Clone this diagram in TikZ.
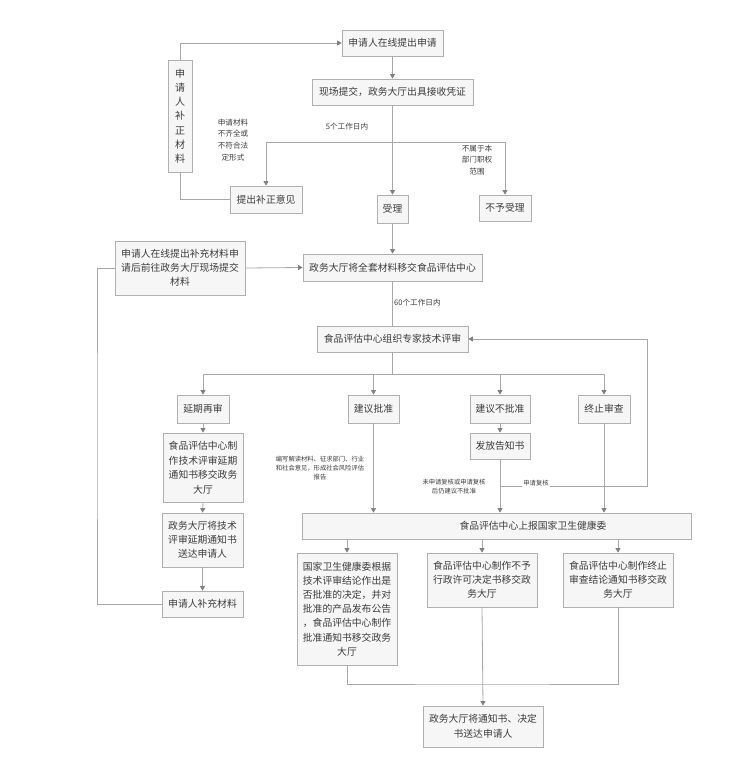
\documentclass[tikz,border=0pt]{standalone}
\usepackage{fontspec}
\setmainfont{Noto Sans CJK SC}
\usetikzlibrary{arrows.meta}
\definecolor{ln}{HTML}{A8A8A8}
\definecolor{bd}{HTML}{B0B0B0}
\definecolor{bf}{HTML}{F6F6F6}
\definecolor{tx}{HTML}{3C3C3C}
\definecolor{ah}{HTML}{808080}
\begin{document}
\begin{tikzpicture}[x=1pt,y=-1pt,
 box/.style={draw=bd, fill=bf, line width=0.8pt, text=tx, inner sep=0pt, align=center, font=\fontsize{9.8}{14.5}\selectfont},
 lbl/.style={text=tx, inner sep=0pt, align=center},
 smalltxt/.style={lbl, font=\fontsize{7.6}{11.8}\selectfont},
 tinytxt/.style={lbl, font=\fontsize{6.3}{9}\selectfont},
 conn/.style={draw=ln, line width=0.8pt},
 arr/.style={conn, -{Triangle[width=5pt,length=4.5pt,color=ah]}},
]
\useasboundingbox (0,0) rectangle (745,767);
\fill[white] (0,0) rectangle (745,767);

% boxes
\node[box, minimum width=101pt, minimum height=26pt] (n1) at (392.5,43) {申请人在线提出申请};
\node[box, minimum width=161pt, minimum height=26pt] (n2) at (392.5,92) {现场提交，政务大厅出具接收凭证};
\node[box, minimum width=24pt, minimum height=112pt, font=\fontsize{10}{14.2}\selectfont] (bz) at (180,116) {申\\请\\人\\补\\正\\材\\料};
\node[box, minimum width=72pt, minimum height=27pt] (n3) at (266,199.5) {提出补正意见};
\node[box, minimum width=31pt, minimum height=28pt] (n4) at (392.5,209) {受理};
\node[box, minimum width=52pt, minimum height=26pt] (n5) at (505,208) {不予受理};
\node[box, minimum width=130pt, minimum height=54pt, font=\fontsize{9.8}{14}\selectfont] (bc) at (180,268) {申请人在线提出补充材料申\\请后前往政务大厅现场提交\\材料};
\node[box, minimum width=179pt, minimum height=27pt] (n6) at (392.5,267.5) {政务大厅将全套材料移交食品评估中心};
\node[box, minimum width=151pt, minimum height=26pt] (n7) at (392.5,339) {食品评估中心组织专家技术评审};
\node[box, minimum width=52pt, minimum height=28pt] (yq) at (203,409) {延期再审};
\node[box, minimum width=51pt, minimum height=28pt] (pz) at (373.5,409) {建议批准};
\node[box, minimum width=60pt, minimum height=28pt] (bpz) at (500,409) {建议不批准};
\node[box, minimum width=52pt, minimum height=28pt] (zz) at (604,409) {终止审查};
\node[box, minimum width=80pt, minimum height=69pt] (yqtz) at (203,467.5) {食品评估中心制\\作技术评审延期\\通知书移交政务\\大厅};
\node[box, minimum width=60pt, minimum height=26pt] (ff) at (500,446) {发放告知书};
\node[box, minimum width=81pt, minimum height=54pt, font=\fontsize{9.8}{13.8}\selectfont] (sd) at (202.5,540) {政务大厅将技术\\评审延期通知书\\送达申请人};
\node[box, minimum width=81pt, minimum height=26pt] (bccl) at (202.5,604) {申请人补充材料};
\node[box, minimum width=389pt, minimum height=26pt] (sb) at (496.5,526) {};
\node[lbl, font=\fontsize{9.8}{14.5}\selectfont] (sbt) at (533,526) {食品评估中心上报国家卫生健康委};
\node[box, minimum width=100pt, minimum height=112pt, font=\fontsize{9.8}{14.2}\selectfont] (gj) at (347,609) {国家卫生健康委根据\\技术评审结论作出是\\否批准的决定，并对\\批准的产品发布公告\\，食品评估中心制作\\批准通知书移交政务\\大厅};
\node[box, minimum width=110pt, minimum height=54pt, font=\fontsize{9.8}{14}\selectfont] (by) at (482,580) {食品评估中心制作不予\\行政许可决定书移交政\\务大厅};
\node[box, minimum width=110pt, minimum height=54pt, font=\fontsize{9.8}{14}\selectfont] (zzjl) at (618,580) {食品评估中心制作终止\\审查结论通知书移交政\\务大厅};
\node[box, minimum width=120pt, minimum height=41pt, font=\fontsize{9.8}{15}\selectfont] (fin) at (483,726.5) {政务大厅将通知书、决定\\书送达申请人};

% coordinates
\coordinate (br1) at (392.5,142);
\coordinate (br2) at (392.5,374);
\coordinate (lc) at (97,436);
\coordinate (lp) at (647,486);
\coordinate (col) at (482,684);

% connectors top
\draw[arr] (n1.south) -- (n2.north);
\draw[arr] (n2.south) -- (n4.north);
\draw[arr] (br1) -| (n3.north);
\draw[arr] (br1) -| (n5.north);
\draw[arr] (bz.north) |- (n1.west);
\draw[conn] (n3.west) -| (bz.south);
\draw[arr] (n4.south) -- (n6.north);
\draw[arr] (bc.east) -- (n6.west);
\draw[conn] (n6.south) -- (n7.north);
\draw[conn] (n7.south) -- (br2);
\draw[arr] (br2) -| (yq.north);
\draw[arr] (br2) -| (pz.north);
\draw[arr] (br2) -| (bpz.north);
\draw[arr] (br2) -| (zz.north);

% left column
\draw[arr] (yq.south) -- (yqtz.north);
\draw[arr] (yqtz.south) -- (sd.north);
\draw[arr] (sd.south) -- (bccl.north);
\draw[conn] (bccl.west) -| (lc) |- (bc.west);

% middle / right
\draw[arr] (pz.south) -- (pz.south |- sb.north);
\draw[arr] (bpz.south) -- (ff.north);
\draw[arr] (ff.south) -- (ff.south |- sb.north);
\draw[arr] (zz.south) -- (zz.south |- sb.north);
\draw[arr] (ff.south |- lp) -- (lp) |- (n7.east);

% bottom
\draw[arr] (sb.south -| gj.north) -- (gj.north);
\draw[arr] (sb.south -| by.north) -- (by.north);
\draw[arr] (sb.south -| zzjl.north) -- (zzjl.north);
\draw[conn] (gj.south) |- (col) -| (zzjl.south);
\draw[arr] (by.south) -- (fin.north);

% labels
\node[smalltxt] (l1) at (347,127) {5个工作日内};
\node[smalltxt] (l2) at (233,140) {申请材料\\不齐全或\\不符合法\\定形式};
\node[smalltxt] (l3) at (477,160) {不属于本\\部门职权\\范围};
\node[smalltxt, anchor=west] (l4) at (394,303) {60个工作日内};
\node[tinytxt] (l5) at (320,468) {编写解读材料、征求部门、行业\\和社会意见，形成社会风险评估\\报告};
\node[tinytxt] (l6) at (454,487) {未申请复核或申请复核\\后仍建议不批准};
\node[tinytxt, fill=white, inner sep=1pt] (l7) at (536,483) {申请复核};
\end{tikzpicture}
\end{document}
